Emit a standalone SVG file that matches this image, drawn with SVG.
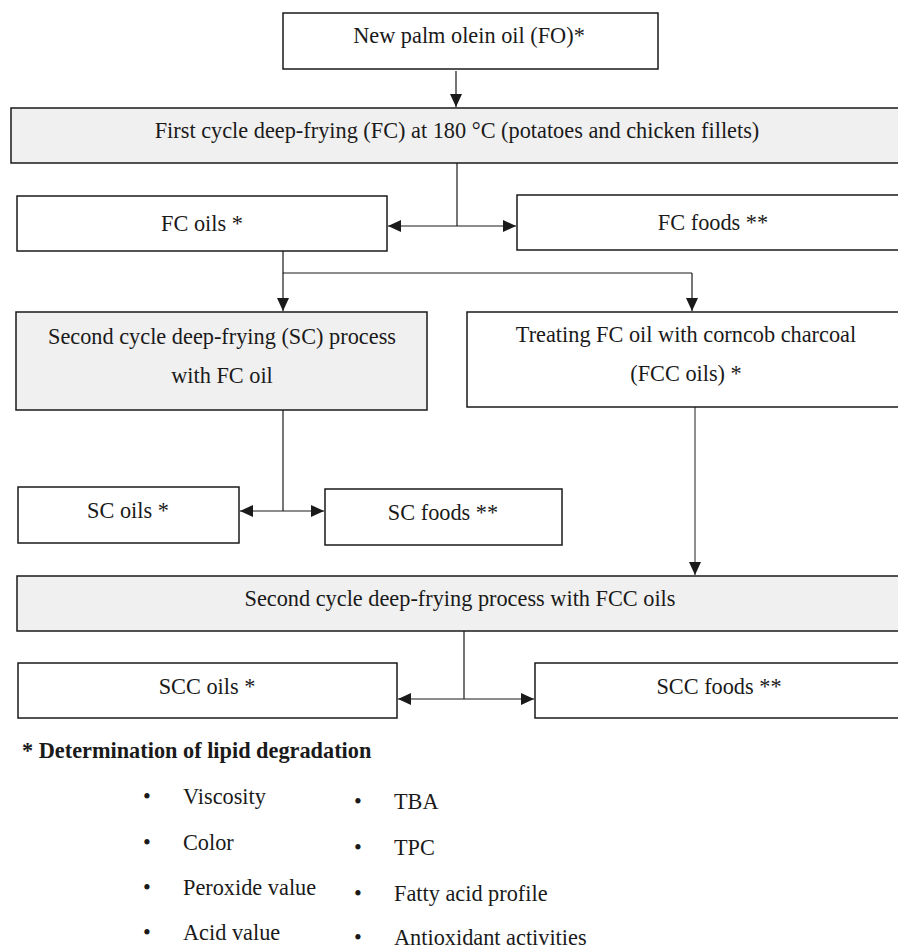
<svg xmlns="http://www.w3.org/2000/svg" width="898" height="951" viewBox="0 0 898 951">
<defs>
<style>
.box{fill:#fff;stroke:#1a1a1a;stroke-width:1.5}
.gray{fill:#f0f0f0;stroke:#1a1a1a;stroke-width:1.5}
.t{font-family:"Liberation Serif","Times New Roman",serif;font-size:22.3px;fill:#1a1a1a;text-anchor:middle}
.l{font-family:"Liberation Serif","Times New Roman",serif;font-size:22.3px;fill:#1a1a1a}
.b{font-family:"Liberation Serif","Times New Roman",serif;font-size:22.3px;fill:#1a1a1a;font-weight:bold}
.c{fill:none;stroke:#1a1a1a;stroke-width:1.2}
</style>
<marker id="ah" markerUnits="userSpaceOnUse" markerWidth="14" markerHeight="12" refX="13" refY="6" orient="auto-start-reverse">
<path d="M0,0 L13,6 L0,12 Z" fill="#1a1a1a"/>
</marker>
</defs>
<g id="connectors">
<line class="c" x1="456" y1="71" x2="456" y2="107" marker-end="url(#ah)"/>
<line class="c" x1="457" y1="163" x2="457" y2="226"/>
<line class="c" x1="388" y1="226" x2="516" y2="226" marker-start="url(#ah)" marker-end="url(#ah)"/>
<polyline class="c" points="283,251 283,273 692,273"/>
<line class="c" x1="283" y1="273" x2="283" y2="311" marker-end="url(#ah)"/>
<line class="c" x1="692" y1="273" x2="692" y2="311" marker-end="url(#ah)"/>
<line class="c" x1="283" y1="410" x2="283" y2="511"/>
<line class="c" x1="240" y1="511" x2="324" y2="511" marker-start="url(#ah)" marker-end="url(#ah)"/>
<line class="c" x1="695" y1="407" x2="695" y2="575" marker-end="url(#ah)" style="stroke:#444"/>
<line class="c" x1="464" y1="631" x2="464" y2="699"/>
<line class="c" x1="398" y1="699" x2="534" y2="699" marker-start="url(#ah)" marker-end="url(#ah)"/>
</g>
<g id="fo">
<rect class="box" x="283" y="13" width="375" height="56"/>
<text class="t" x="469" y="43">New palm olein oil (FO)*</text>
</g>
<g id="fc">
<rect class="gray" x="11" y="108" width="892" height="55"/>
<text class="t" x="457" y="138">First cycle deep-frying (FC) at 180 °C (potatoes and chicken fillets)</text>
</g>
<g id="fc-oils">
<rect class="box" x="17" y="196" width="370" height="55"/>
<text class="t" x="202" y="231">FC oils *</text>
</g>
<g id="fc-foods">
<rect class="box" x="517" y="195" width="386" height="55"/>
<text class="t" x="713" y="230">FC foods **</text>
</g>
<g id="sc">
<rect class="gray" x="16" y="312" width="411" height="98"/>
<text class="t" x="222" y="344">Second cycle deep-frying (SC) process</text>
<text class="t" x="222" y="383">with FC oil</text>
</g>
<g id="fcc">
<rect class="box" x="467" y="312" width="436" height="95"/>
<text class="t" x="686" y="342">Treating FC oil with corncob charcoal</text>
<text class="t" x="686" y="381">(FCC oils) *</text>
</g>
<g id="sc-oils">
<rect class="box" x="18" y="487" width="221" height="56"/>
<text class="t" x="128" y="518">SC oils *</text>
</g>
<g id="sc-foods">
<rect class="box" x="325" y="489" width="237" height="56"/>
<text class="t" x="443" y="520">SC foods **</text>
</g>
<g id="scc">
<rect class="gray" x="17" y="576" width="886" height="55"/>
<text class="t" x="460" y="606">Second cycle deep-frying process with FCC oils</text>
</g>
<g id="scc-oils">
<rect class="box" x="18" y="663" width="379" height="55"/>
<text class="t" x="207" y="694">SCC oils *</text>
</g>
<g id="scc-foods">
<rect class="box" x="535" y="663" width="368" height="55"/>
<text class="t" x="719" y="694">SCC foods **</text>
</g>
<g id="legend">
<text class="b" x="22" y="758">* Determination of lipid degradation</text>
<g class="l">
<text x="143" y="804">•</text><text x="183" y="804">Viscosity</text>
<text x="143" y="850">•</text><text x="183" y="850">Color</text>
<text x="143" y="895">•</text><text x="183" y="895">Peroxide value</text>
<text x="143" y="940">•</text><text x="183" y="940">Acid value</text>
<text x="354" y="809">•</text><text x="394" y="809">TBA</text>
<text x="354" y="855">•</text><text x="394" y="855">TPC</text>
<text x="354" y="901">•</text><text x="394" y="901">Fatty acid profile</text>
<text x="354" y="945">•</text><text x="394" y="945">Antioxidant activities</text>
</g>
</g>
</svg>
